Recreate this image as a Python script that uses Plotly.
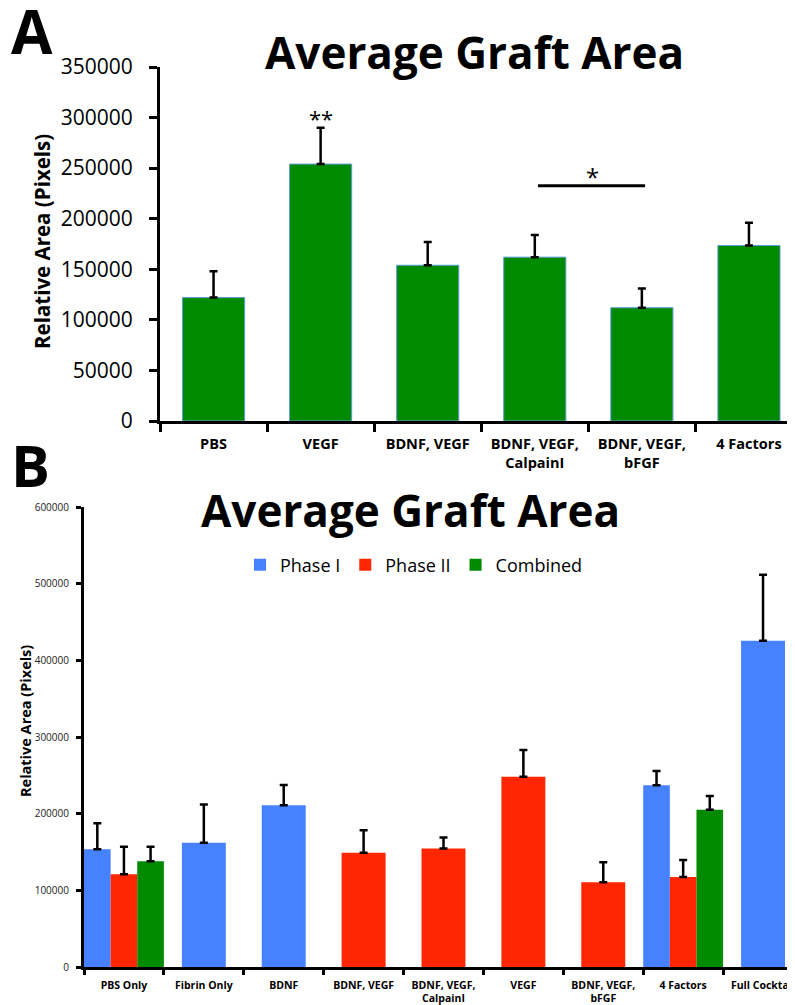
import plotly.graph_objects as go

# ---------------- Panel A data ----------------
a_categories = ["PBS", "VEGF", "BDNF, VEGF", "BDNF, VEGF,<br>CalpainI", "BDNF, VEGF,<br>bFGF", "4 Factors"]
a_values = [122000, 254000, 154000, 162000, 112000, 173500]
a_errors = [26000, 36000, 23000, 22000, 19000, 22500]
a_yticks = [0, 50000, 100000, 150000, 200000, 250000, 300000, 350000]

# ---------------- Panel B data ----------------
b_categories = ["PBS Only", "Fibrin Only", "BDNF", "BDNF, VEGF", "BDNF, VEGF,<br>CalpainI",
                "VEGF", "BDNF, VEGF,<br>bFGF", "4 Factors", "Full Cocktail"]
b_phase1 = [153500, 162000, 211000, None, None, None, None, 237000, 425500]
b_phase1_err = [34000, 50000, 26500, None, None, None, None, 18500, 86000]
b_phase2 = [121000, None, None, 149000, 154500, 248000, 110500, 117500, None]
b_phase2_err = [36000, None, None, 29500, 14500, 35000, 26000, 22000, None]
b_combined = [138000, None, None, None, None, None, None, 205000, None]
b_combined_err = [19000, None, None, None, None, None, None, 18000, None]
b_yticks = [0, 100000, 200000, 300000, 400000, 500000, 600000]

GREEN = "#008a00"
BLUE = "#4681ff"
RED = "#ff2600"
FONT = "Open Sans"

# page body has an 8px margin: the figure is sized so it fills the window
OFF = 8
W, H = 795 - OFF, 1005 - OFF


def px(x):
    return (x - OFF) / W


def py(y):
    return 1 - (y - OFF) / H


fig = go.Figure()

# Panel A bars
fig.add_trace(go.Bar(
    x=a_categories, y=a_values, xaxis="x", yaxis="y",
    marker=dict(color=GREEN, line=dict(color="#5b9bd5", width=1)),
    error_y=dict(type="data", array=a_errors, symmetric=False,
                 arrayminus=[0] * len(a_errors), color="black", thickness=2.5, width=4),
    showlegend=False, width=0.58,
))

# Panel B bars: widths/offsets depend on how many series a category has
series = [("Phase I", b_phase1, b_phase1_err, BLUE),
          ("Phase II", b_phase2, b_phase2_err, RED),
          ("Combined", b_combined, b_combined_err, GREEN)]
counts = [sum(1 for s in series if s[1][i] is not None) for i in range(len(b_categories))]
for k, (name, vals, errs, col) in enumerate(series):
    widths, offsets = [], []
    for i in range(len(b_categories)):
        if counts[i] > 1:
            widths.append(1 / 3)
            offsets.append(-0.5 + k / 3)
        else:
            widths.append(0.55)
            offsets.append(-0.275)
    fig.add_trace(go.Bar(
        x=b_categories, y=vals, name=name, xaxis="x2", yaxis="y2",
        marker=dict(color=col, line=dict(width=0)),
        width=widths, offset=offsets,
        error_y=dict(type="data", array=errs, symmetric=False,
                     arrayminus=[0] * len(errs), color="black", thickness=2.5, width=4),
    ))

axis_line = dict(showline=True, linecolor="black", linewidth=3, showgrid=False,
                 zeroline=False, automargin=False)

fig.update_layout(
    width=W, height=H, margin=dict(l=0, r=0, t=0, b=0, pad=0, autoexpand=False),
    paper_bgcolor="white", plot_bgcolor="rgba(0,0,0,0)",
    barmode="overlay",
    xaxis=dict(domain=[px(160), 1], anchor="y", type="category", range=[-0.5, 5.43],
               tickson="boundaries", ticks="outside", ticklen=8, tickwidth=3, tickcolor="black",
               tickfont=dict(family=FONT, size=14.5, color="black", weight="bold"),
               ticklabelstandoff=8, **axis_line),
    yaxis=dict(domain=[py(421), py(67)], anchor="x", range=[0, 350000],
               tickvals=a_yticks, ticktext=[str(v) for v in a_yticks],
               ticks="outside", ticklen=8, tickwidth=3, tickcolor="black",
               tickfont=dict(family=FONT, size=21, color="black"),
               ticklabelstandoff=12, **axis_line),
    xaxis2=dict(domain=[px(84), 1], anchor="y2", type="category", range=[-0.5, 8.4],
                tickson="boundaries", ticks="outside", ticklen=5, tickwidth=3, tickcolor="black",
                tickfont=dict(family=FONT, size=10.5, color="black", weight="bold"),
                ticklabelstandoff=6, **axis_line),
    yaxis2=dict(domain=[py(967), py(507)], anchor="x2", range=[0, 600000],
                tickvals=b_yticks, ticktext=[str(v) for v in b_yticks],
                ticks="outside", ticklen=5, tickwidth=3, tickcolor="black",
                tickfont=dict(family=FONT, size=10, color="#222"),
                ticklabelstandoff=5, **axis_line),
    legend=dict(orientation="h", x=px(240), y=py(565), xanchor="left", yanchor="middle",
                font=dict(family=FONT, size=18, color="black"), bgcolor="rgba(0,0,0,0)",
                itemwidth=30, traceorder="normal"),
)


def label(text, x, y, size, angle=0):
    return dict(text=text, x=px(x), y=py(y), xref="paper", yref="paper",
                xanchor="center", yanchor="middle", textangle=angle, showarrow=False,
                font=dict(family=FONT, size=size, color="black"))


ann = [
    label("<b>A</b>", 32, 31, 60),
    label("<b>B</b>", 30, 465, 58),
    label("<b>Average Graft Area</b>", 475, 52, 44),
    label("<b>Average Graft Area</b>", 410, 510, 44),
    label("<b>Relative Area (Pixels)</b>", 42, 242, 20.5, -90),
    label("<b>Relative Area (Pixels)</b>", 25, 721, 14.5, -90),
]
# Significance markers
ann.append(dict(text="**", x=a_categories[1], y=a_values[1] + a_errors[1], xref="x", yref="y",
                yanchor="bottom", yshift=-7, showarrow=False,
                font=dict(family=FONT, size=22, color="black")))
ann.append(dict(text="*", x=3.54, y=232700, xref="x", yref="y", yanchor="bottom", yshift=-9,
                showarrow=False, font=dict(family=FONT, size=24, color="black")))
fig.update_layout(annotations=ann)

fig.add_shape(type="line", xref="x", yref="y", x0=3.03, x1=4.03, y0=232700, y1=232700,
              line=dict(color="black", width=3))

fig.write_html("out.html")
